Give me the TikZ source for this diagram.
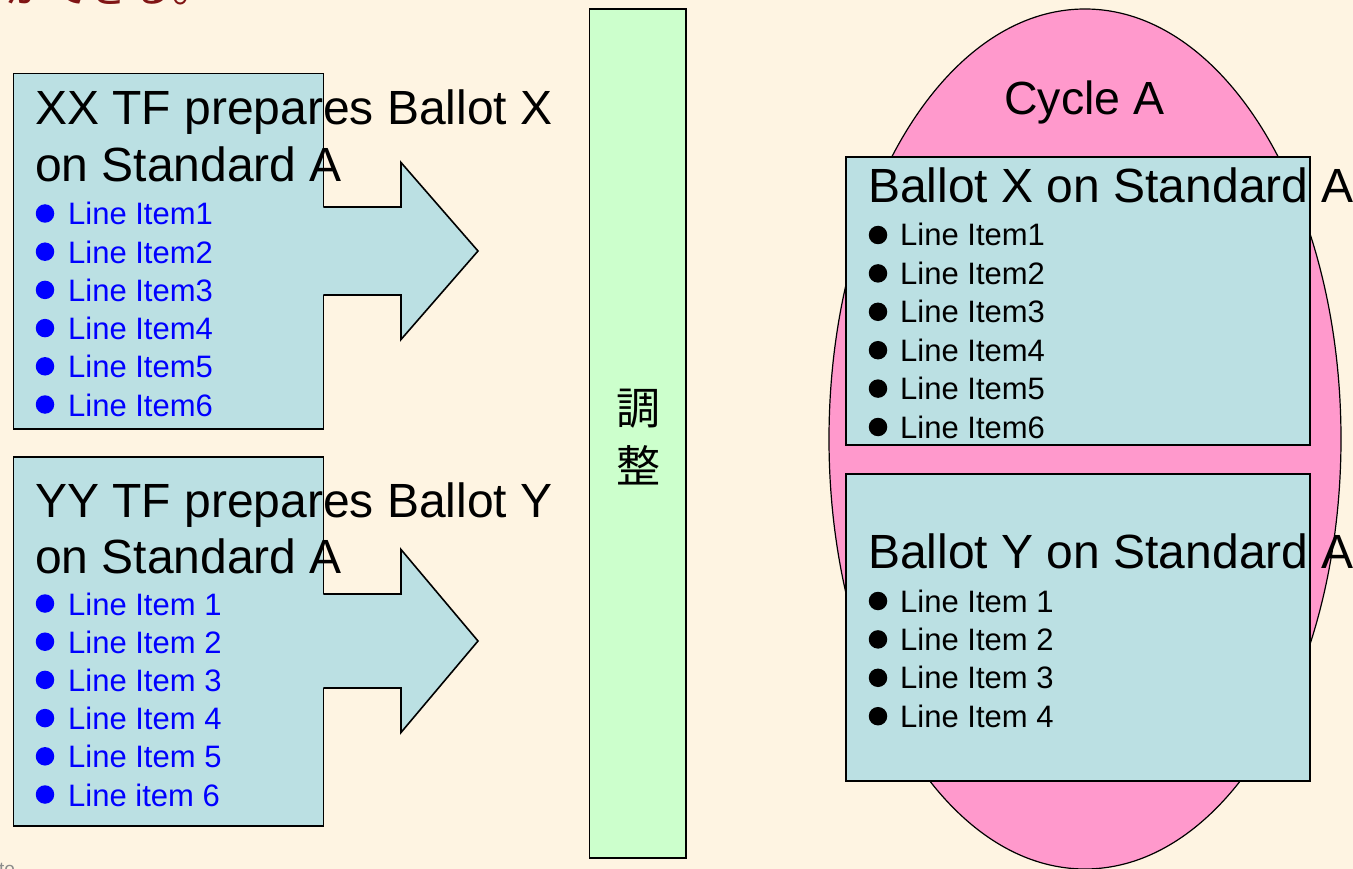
\documentclass[tikz,border=0pt]{standalone}
\usepackage{fontspec}
\setmainfont{Liberation Sans}
\newfontfamily\cjk{Noto Sans CJK JP}
\usetikzlibrary{shapes.geometric}
\definecolor{bg}{RGB}{254,244,226}
\definecolor{boxblue}{RGB}{187,224,227}
\definecolor{pinkfill}{RGB}{255,153,204}
\definecolor{greenfill}{RGB}{204,255,204}
\definecolor{itemblue}{RGB}{0,0,255}
\definecolor{darkred}{RGB}{128,20,20}
\begin{document}
\begin{tikzpicture}[x=1pt,y=-1pt,
  panel/.style={draw=black,line width=1.6pt,fill=boxblue,inner sep=0},
  head/.style={anchor=base west,inner sep=0,font=\fontsize{48}{56}\selectfont},
  item/.style={anchor=base west,inner sep=0,font=\fontsize{31}{36}\selectfont},
  dot/.style={circle,fill,inner sep=0,minimum size=18.5pt},
  arrowfill/.style={fill=boxblue},
  arrowline/.style={draw=black,line width=1.6pt,line join=miter}]
\useasboundingbox (0,0) rectangle (1353,869);
\clip (0,0) rectangle (1353,869);
\fill[bg] (0,0) rectangle (1353,869);

% cut-off texts
\node[anchor=base west,inner sep=0,text=darkred,font=\cjk\fontsize{42}{42}\selectfont] (toptext) at (5,2.5) {ができる。};
\node[anchor=base west,inner sep=0,text=black!45,font=\fontsize{19}{19}\selectfont] (note) at (-1,875.5) {to};

% central bar
\node[draw=black,line width=1.6pt,fill=greenfill,inner sep=0,minimum width=96.7pt,minimum height=849pt] (bar) at (637.7,433.6) {};
\node[inner sep=0,font=\cjk\fontsize{44}{44}\selectfont] (adjA) at (638,409) {調};
\node[inner sep=0,font=\cjk\fontsize{44}{44}\selectfont] (adjB) at (638,465) {整};

% cycle ellipse
\node[ellipse,draw=black,line width=1.2pt,fill=pinkfill,inner sep=0,minimum width=512pt,minimum height=860pt] (cyc) at (1085,439) {};
\node[anchor=base west,inner sep=0,font=\fontsize{46.5}{50}\selectfont] (cyclbl) at (1004,115) {Cycle A};

% right boxes
\node[panel,minimum width=464pt,minimum height=288pt] (bx) at (1078,301) {};
\node[panel,minimum width=464pt,minimum height=307pt] (by) at (1078,627.5) {};

% left boxes
\node[panel,minimum width=310pt,minimum height=355.7pt] (xx) at (168.3,251.2) {};
\node[panel,minimum width=310pt,minimum height=368.7pt] (yy) at (168.3,641.4) {};

% block arrows
\path[arrowfill] (318,207)--(401,207)--(401,162.5)--(478,251)--(401,339.5)--(401,295)--(318,295)--cycle;
\draw[arrowline] (323.3,207)--(401,207)--(401,162.5)--(478,251)--(401,339.5)--(401,295)--(323.3,295);
\path[arrowfill] (318,594)--(401,594)--(401,549.5)--(478,641)--(401,732.5)--(401,688)--(318,688)--cycle;
\draw[arrowline] (323.3,594)--(401,594)--(401,549.5)--(478,641)--(401,732.5)--(401,688)--(323.3,688);

% left texts
\node[head] (xxh1) at (35,125) {XX TF prepares Ballot X};
\node[head] (xxh2) at (35,182) {on Standard A};
\foreach \i/\t in {0/Line Item1,1/Line Item2,2/Line Item3,3/Line Item4,4/Line Item5,5/Line Item6}{
  \node[dot,fill=itemblue] (xxd\i) at (45,225+38.2*\i-11.5) {};
  \node[item,text=itemblue] (xxi\i) at (68,225+38.2*\i) {\t};
}
\node[head] (yyh1) at (35,517) {YY TF prepares Ballot Y};
\node[head] (yyh2) at (35,573) {on Standard A};
\foreach \i/\t in {0/Line Item 1,1/Line Item 2,2/Line Item 3,3/Line Item 4,4/Line Item 5,5/Line item 6}{
  \node[dot,fill=itemblue] (yyd\i) at (45,615+38.2*\i-11.5) {};
  \node[item,text=itemblue] (yyi\i) at (68,615+38.2*\i) {\t};
}

% right texts
\node[head] (bxh) at (868,203) {Ballot X on Standard A};
\foreach \i/\t in {0/Line Item1,1/Line Item2,2/Line Item3,3/Line Item4,4/Line Item5,5/Line Item6}{
  \node[dot,fill=black] (bxd\i) at (878,246+38.4*\i-11) {};
  \node[item] (bxi\i) at (900,246+38.4*\i) {\t};
}
\node[head] (byh) at (868,568) {Ballot Y on Standard A};
\foreach \i/\t in {0/Line Item 1,1/Line Item 2,2/Line Item 3,3/Line Item 4}{
  \node[dot,fill=black] (byd\i) at (878,612+38.4*\i-11) {};
  \node[item] (byi\i) at (900,612+38.4*\i) {\t};
}
\end{tikzpicture}
\end{document}
